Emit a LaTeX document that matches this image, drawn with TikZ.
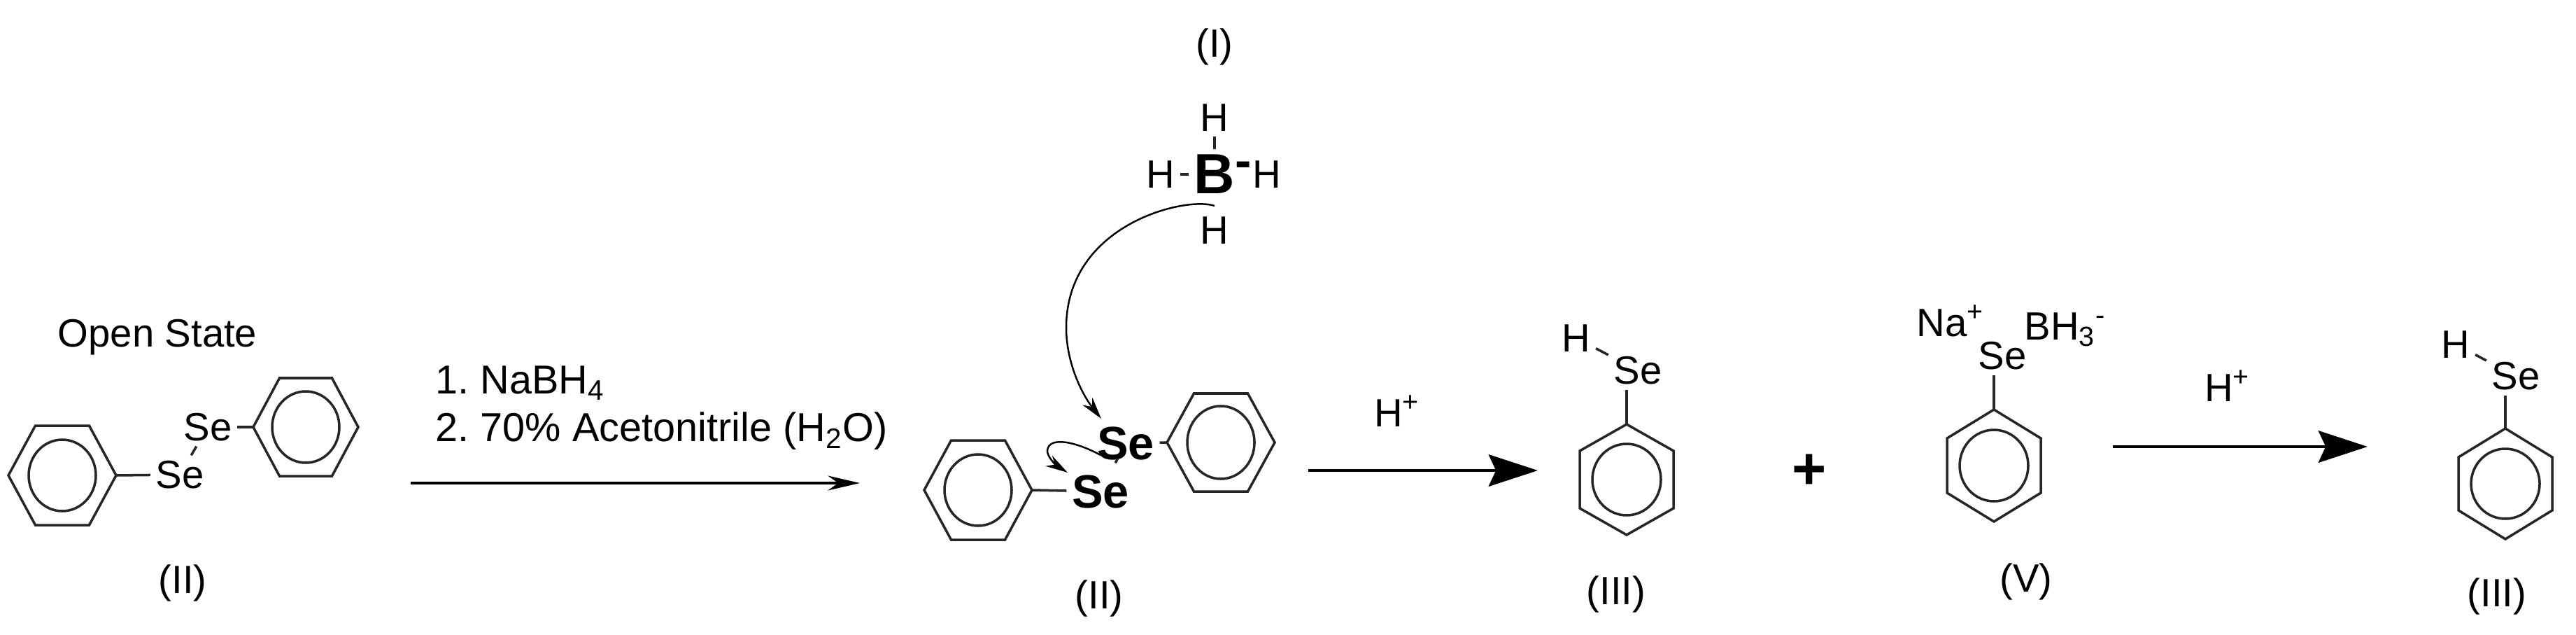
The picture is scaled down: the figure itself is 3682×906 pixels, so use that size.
\documentclass[tikz,border=0pt]{standalone}
\usepackage{fontspec}
\setmainfont{Liberation Sans}
\usetikzlibrary{arrows.meta}
\frenchspacing

\tikzset{
  bondline/.style={line width=1pt, black!85},
  ringline/.style={line width=1pt, black!85},
  txt/.style={font=\fontsize{16}{19}\selectfont, inner sep=0pt},
  condtxt/.style={font=\fontsize{16.4}{19}\selectfont, inner sep=0pt, anchor=west},
  atomlabel/.style={font=\fontsize{16}{19}\selectfont, inner sep=2pt},
  boldatom/.style={font=\fontsize{19}{22}\selectfont\bfseries, inner sep=2pt},
  smallarrow/.style={line width=1pt, -{Stealth[length=13pt,width=6pt]}},
  bigarrow/.style={line width=1pt, -{Stealth[length=20pt,width=13pt,inset=3pt]}},
  curlyarrow/.style={line width=0.7pt, -{Stealth[length=9pt,width=5pt]}}
}

% Ring with a flat top: name, centre x, centre y, half width, half height, inner x radius, inner y radius
\newcommand{\flatring}[7]{
  \coordinate (#1c) at (#2,#3);
  \coordinate (#1l) at ({#2-#4},#3);
  \coordinate (#1r) at ({#2+#4},#3);
  \draw[ringline] (#1l) -- ({#2-#4/2},{#3-#5}) -- ({#2+#4/2},{#3-#5}) -- (#1r)
    -- ({#2+#4/2},{#3+#5}) -- ({#2-#4/2},{#3+#5}) -- cycle;
  \draw[ringline] (#1c) ellipse [x radius=#6, y radius=#7];
}

% Ring with a vertex on top: name, centre x, centre y, half width, half height, side half height, inner x radius, inner y radius
\newcommand{\tipring}[8]{
  \coordinate (#1c) at (#2,#3);
  \coordinate (#1t) at (#2,{#3-#5});
  \draw[ringline] (#1t) -- ({#2+#4},{#3-#6}) -- ({#2+#4},{#3+#6}) -- (#2,{#3+#5})
    -- ({#2-#4},{#3+#6}) -- ({#2-#4},{#3-#6}) -- cycle;
  \draw[ringline] (#1c) ellipse [x radius=#7, y radius=#8];
}

\begin{document}
\begin{tikzpicture}[x=0.01cm, y=-0.01cm]

    \useasboundingbox (0,0) rectangle (3682,906);

    % Open state molecule
    \flatring{ringa}{89}{679}{77}{71}{48}{51}
    \flatring{ringb}{437}{610}{75}{70}{48}{51}
    \node[atomlabel] (sea) at (257,678) {Se};
    \node[atomlabel] (seb) at (297,610) {Se};
    \draw[bondline] (ringar) -- (sea);
    \draw[bondline] (sea) -- (seb);
    \draw[bondline] (seb) -- (ringbl);
    \node[txt] (openstate) at (225,482) {Open State};
    \node[txt] (labela) at (261,833) {(II)};

    % First arrow and its conditions
    \coordinate (arrowastart) at (587,690);
    \coordinate (arrowaend) at (1229,690);
    \draw[smallarrow] (arrowastart) -- (arrowaend);
    \node[condtxt] (condone) at (622,547) {1. NaBH\textsubscript{4}};
    \node[condtxt] (condtwo) at (622,616) {2. 70\% Acetonitrile (H\textsubscript{2}O)};

    % Borohydride
    \node[txt] (labeli) at (1736,67) {(I)};
    \node[font=\fontsize{23}{26}\selectfont\bfseries, inner sep=2pt] (boron) at (1736,249) {B};
    \node[font=\fontsize{20}{22}\selectfont\bfseries, inner sep=0pt] (charge) at (1777,242) {-};
    \node[atomlabel] (hta) at (1736,168) {H};
    \node[atomlabel] (hla) at (1659,249) {H};
    \node[atomlabel] (hra) at (1811,249) {H};
    \node[atomlabel] (hba) at (1736,329) {H};
    \draw[bondline] (hta) -- (boron);
    \draw[bondline] (hla) -- (boron);

    % Diselenide under attack
    \flatring{ringc}{1398}{700}{77}{71}{48}{51}
    \flatring{ringd}{1745}{632}{77}{70}{48}{52}
    \node[boldatom] (sec) at (1609,633) {Se};
    \node[boldatom] (sed) at (1573,702) {Se};
    \draw[bondline] (ringcr) -- (sed);
    \draw[bondline] (sec) -- (ringdl);
    \draw[bondline, shorten >=3pt, shorten <=3pt] (sec) -- (sed);
    \node[txt] (labelb) at (1571,855) {(II)};

    % Curved arrows
    \coordinate (curvestart) at (1736,294);
    \coordinate (curveend) at (1574,598);
    \draw[curlyarrow] (curvestart) .. controls (1695,280) and (1524,320) .. (1524,468)
      .. controls (1524,520) and (1548,565) .. (curveend);
    \coordinate (shiftstart) at (1573,650);
    \coordinate (shiftend) at (1526,675);
    \draw[curlyarrow] (shiftstart) .. controls (1540,632) and (1500,622) .. (1497,643)
      .. controls (1496,652) and (1510,665) .. (shiftend);

    % Second arrow
    \coordinate (arrowbstart) at (1870,672);
    \coordinate (arrowbend) at (2198,672);
    \draw[bigarrow] (arrowbstart) -- (arrowbend);
    \node[txt] (protona) at (1997,587) {H\textsuperscript{+}};

    % Selenol
    \tipring{ringe}{2325}{685}{67}{79}{41}{49}{51}
    \node[atomlabel] (hsea) at (2341,529) {Se};
    \node[atomlabel] (hb) at (2253,483) {H};
    \draw[bondline] (hb) -- (hsea);
    \draw[bondline] (hsea.south -| ringet) -- (ringet);
    \node[txt] (labelc) at (2310,849) {(III)};

    % Plus
    \node[font=\fontsize{24}{26}\selectfont\bfseries, inner sep=0pt] (plus) at (2586,674) {+};

    % Selenide borane
    \tipring{ringf}{2850}{665}{67}{80}{39}{49}{51}
    \node[atomlabel] (sef) at (2862,508) {Se};
    \node[txt] (sodium) at (2788,458) {Na\textsuperscript{+}};
    \node[txt, anchor=west] (borane) at (2893,471) {BH\textsubscript{3}\textsuperscript{-}};
    \draw[bondline] (sef.south -| ringft) -- (ringft);
    \node[txt] (labeld) at (2896,831) {(V)};

    % Third arrow
    \coordinate (arrowcstart) at (3020,638);
    \coordinate (arrowcend) at (3384,638);
    \draw[bigarrow] (arrowcstart) -- (arrowcend);
    \node[txt] (protonb) at (3184,551) {H\textsuperscript{+}};

    % Selenol again
    \tipring{ringg}{3581}{691}{67}{79}{38}{49}{50}
    \node[atomlabel] (hseb) at (3596,537) {Se};
    \node[atomlabel] (hc) at (3510,492) {H};
    \draw[bondline] (hc) -- (hseb);
    \draw[bondline] (hseb.south -| ringgt) -- (ringgt);
    \node[txt] (labele) at (3569,852) {(III)};

\end{tikzpicture}
\end{document}
